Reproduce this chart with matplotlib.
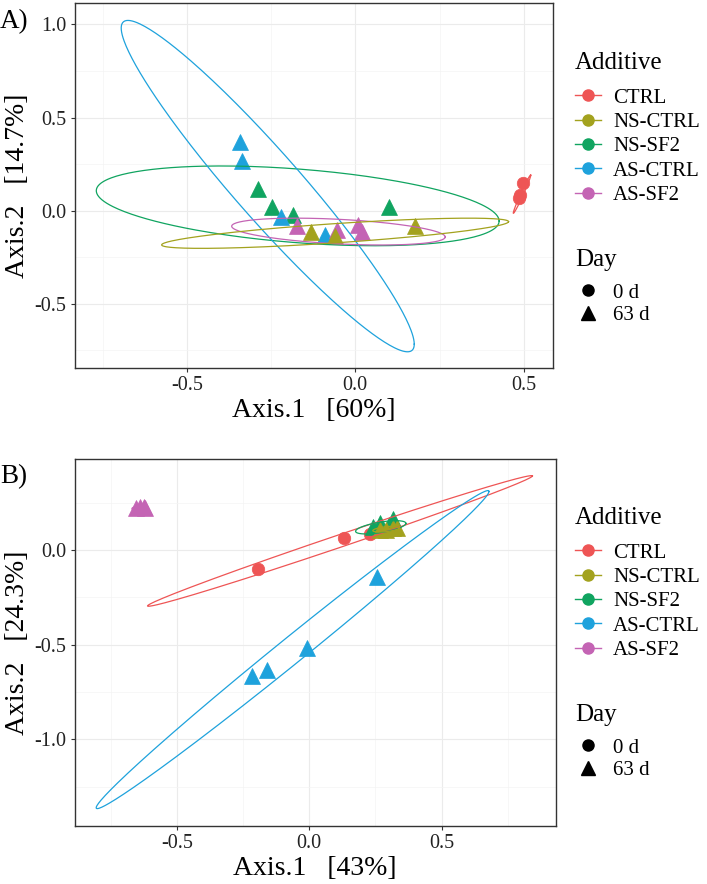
import numpy as np
import matplotlib
matplotlib.use("Agg")
import matplotlib.pyplot as plt
from matplotlib.lines import Line2D
from matplotlib.ticker import MultipleLocator, FormatStrFormatter

plt.rcParams['font.family'] = ['Liberation Serif', 'DejaVu Serif']
plt.rcParams['axes.unicode_minus'] = False

groups = ["CTRL", "NS-CTRL", "NS-SF2", "AS-CTRL", "AS-SF2"]
colors = ["#EE5555", "#A3A21E", "#10A460", "#1EA2DC", "#C464B4"]
group_day = ["0 d", "63 d", "63 d", "63 d", "63 d"]
days = ["0 d", "63 d"]

# panel A (points per group)
a_x = {
    "CTRL": [0.499, 0.489, 0.485],
    "NS-CTRL": [-0.132, -0.06, 0.178],
    "NS-SF2": [-0.288, -0.247, -0.184, 0.10],
    "AS-CTRL": [-0.342, -0.337, -0.221, -0.09],
    "AS-SF2": [-0.172, -0.055, 0.007, 0.019],
}
a_y = {
    "CTRL": [0.147, 0.084, 0.07],
    "NS-CTRL": [-0.113, -0.136, -0.082],
    "NS-SF2": [0.115, 0.02, -0.023, 0.02],
    "AS-CTRL": [0.37, 0.267, -0.032, -0.13],
    "AS-SF2": [-0.082, -0.104, -0.077, -0.113],
}
# ellipse: centre x, centre y, half extent x, half extent y, correlation
a_ell = {
    "CTRL": (0.495, 0.089, 0.026, 0.103, 0.985),
    "NS-CTRL": (-0.06, -0.121, 0.515, 0.081, 0.77),
    "NS-SF2": (-0.171, 0.026, 0.598, 0.214, -0.38),
    "AS-CTRL": (-0.26, 0.132, 0.435, 0.889, -0.954),
    "AS-SF2": (-0.05, -0.112, 0.317, 0.072, -0.40),
}

# panel B
b_x = {
    "CTRL": [-0.195, 0.131, 0.229, 0.26],
    "NS-CTRL": [0.267, 0.29, 0.317, 0.33],
    "NS-SF2": [0.242, 0.267, 0.317, 0.30],
    "AS-CTRL": [0.255, -0.01, -0.161, -0.216],
    "AS-SF2": [-0.655, -0.64, -0.625, -0.62],
}
b_y = {
    "CTRL": [-0.10, 0.062, 0.083, 0.10],
    "NS-CTRL": [0.106, 0.105, 0.114, 0.115],
    "NS-SF2": [0.123, 0.145, 0.163, 0.13],
    "AS-CTRL": [-0.145, -0.52, -0.634, -0.666],
    "AS-SF2": [0.22, 0.228, 0.225, 0.222],
}
b_ell = {
    "CTRL": (0.116, 0.048, 0.727, 0.345, 0.995),
    "NS-CTRL": (0.29, 0.11, 0.05, 0.015, 0.5),
    "NS-SF2": (0.27, 0.12, 0.095, 0.035, 0.6),
    "AS-CTRL": (-0.063, -0.526, 0.742, 0.84, 0.9945),
    "AS-SF2": (-0.64, 0.222, 0.03, 0.012, 0.3),
}

draw_order = ["CTRL", "NS-SF2", "AS-CTRL", "AS-SF2", "NS-CTRL"]

W, H = 707.0, 884.0


def ellipse(cx, cy, sx, sy, rho):
    t = np.linspace(0, 2 * np.pi, 300)
    x = cx + sx * np.cos(t)
    y = cy + sy * (rho * np.cos(t) + np.sqrt(1 - rho ** 2) * np.sin(t))
    return x, y


def panel(ax, px, py, ell, xlim, ylim, yticks, xlab, ylab):
    for g in draw_order:
        c = colors[groups.index(g)]
        m = "o" if group_day[groups.index(g)] == "0 d" else "^"
        ax.plot(px[g], py[g], linestyle="none", marker=m, ms=9 if m == "o" else 12,
                color=c, mec=c, mew=0.5, zorder=3)
    for g in draw_order:
        c = colors[groups.index(g)]
        ex, ey = ellipse(*ell[g])
        ax.plot(ex, ey, color=c, lw=0.9, zorder=4)
    ax.set_xlim(*xlim)
    ax.set_ylim(*ylim)
    ax.set_xticks([-0.5, 0.0, 0.5])
    ax.set_yticks(yticks)
    ax.xaxis.set_major_formatter(FormatStrFormatter("%.1f"))
    ax.yaxis.set_major_formatter(FormatStrFormatter("%.1f"))
    ax.xaxis.set_minor_locator(MultipleLocator(0.25))
    ax.yaxis.set_minor_locator(MultipleLocator(0.25))
    ax.grid(which="major", color="#EBEBEB", lw=0.8, zorder=0)
    ax.grid(which="minor", color="#F4F4F4", lw=0.5, zorder=0)
    ax.set_axisbelow(True)
    ax.tick_params(which="major", length=3, width=0.8, color="#333333",
                   labelsize=14.5, labelcolor="#222222", pad=3)
    ax.tick_params(which="minor", length=0)
    for s in ax.spines.values():
        s.set_color("#333333")
        s.set_linewidth(1.0)
    ax.set_xlabel(xlab, fontsize=20, labelpad=2)
    ax.set_ylabel(ylab, fontsize=20, labelpad=3)


def legends(ax, off):
    fig = ax.figure
    fig.text(575 / W, 1 - (63 + off) / H, "Additive", fontsize=18, va="center", ha="left")
    h1 = [Line2D([], [], color=c, marker="o", ms=8, lw=1.0) for c in colors]
    leg1 = ax.legend(h1, groups, loc="center left",
                     bbox_to_anchor=(575 / W, 1 - (146.5 + off) / H), bbox_transform=fig.transFigure,
                     frameon=False, fontsize=15, borderpad=0, borderaxespad=0,
                     handlelength=1.25, handletextpad=0.58, labelspacing=0.23)
    ax.add_artist(leg1)
    fig.text(575 / W, 1 - (260 + off) / H, "Day", fontsize=18, va="center", ha="left")
    h2 = [Line2D([], [], color="black", marker="o", ms=8, lw=0),
          Line2D([], [], color="black", marker="^", ms=10, lw=0)]
    ax.legend(h2, days, loc="center left",
              bbox_to_anchor=(575 / W, 1 - (304 + off) / H), bbox_transform=fig.transFigure,
              frameon=False, fontsize=15, borderpad=0, borderaxespad=0,
              handlelength=1.25, handletextpad=0.58, labelspacing=0.13)


fig = plt.figure(figsize=(7.07, 8.84), dpi=100)
axA = fig.add_axes([0.1057, 0.5837, 0.6765, 0.4126])
axB = fig.add_axes([0.1057, 0.0660, 0.6803, 0.4148])

panel(axA, a_x, a_y, a_ell, (-0.833, 0.587), (-0.844, 1.113), [-0.5, 0.0, 0.5, 1.0],
      "Axis.1   [60%]", "Axis.2   [14.7%]")
panel(axB, b_x, b_y, b_ell, (-0.886, 0.931), (-1.456, 0.481), [-1.0, -0.5, 0.0],
      "Axis.1   [43%]", "Axis.2   [24.3%]")

legends(axA, 0)
legends(axB, 455)

fig.text(0.0, 1 - 22 / H, "A)", fontsize=19.5, va="center", ha="left")
fig.text(0.0, 1 - 477 / H, "B)", fontsize=19.5, va="center", ha="left")

fig.savefig("out.png", dpi=100)
